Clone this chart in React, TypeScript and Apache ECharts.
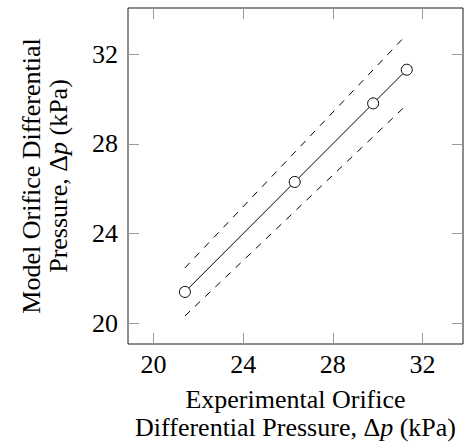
import React, { useEffect, useRef } from "react";
import * as echarts from "echarts";

const tickValues = [20, 24, 28, 32];
const experimental = [21.4, 26.3, 29.8, 31.3];
const model = [21.4, 26.3, 29.8, 31.3];
const upperBoundX = [21.4, 31.3];
const upperBoundY = [22.47, 32.87];
const lowerBoundX = [21.4, 31.3];
const lowerBoundY = [20.33, 29.74];

const FONT = "'Liberation Serif', 'Times New Roman', 'DejaVu Serif', serif";

export default function App() {
  const ref = useRef<HTMLDivElement>(null);
  useEffect(() => {
    if (!ref.current) return;
    const chart = echarts.init(ref.current, undefined, { renderer: "svg" });
    const tickStyle = {
      show: true,
      inside: true,
      length: 11,
      customValues: tickValues,
      lineStyle: { color: "#9a9a9a", width: 1 },
    };
    const labelStyle = {
      customValues: tickValues,
      fontFamily: FONT,
      fontSize: 26,
      color: "#000",
    };
    const nameStyle = (lh: number) => ({
      fontFamily: FONT,
      fontSize: 26,
      color: "#000",
      lineHeight: lh,
      rich: {
        i: { fontFamily: FONT, fontSize: 26, fontStyle: "italic", color: "#000", lineHeight: lh },
      },
    });
    chart.setOption({
      animation: false,
      textStyle: { fontFamily: FONT },
      grid: {
        left: 128,
        right: 3,
        top: 8,
        bottom: 102,
        containLabel: false,
        outerBoundsMode: "none",
        show: true,
        borderColor: "#1a1a1a",
        borderWidth: 1,
        backgroundColor: "transparent",
      },
      xAxis: [
        {
          type: "value",
          min: 18.86,
          max: 33.81,
          axisLine: { show: false },
          axisTick: tickStyle,
          axisLabel: { ...labelStyle, margin: 7 },
          splitLine: { show: false },
          name: "Experimental Orifice\nDifferential Pressure, Δ{i|p} (kPa)",
          nameLocation: "middle",
          nameGap: 41,
          nameTextStyle: nameStyle(28),
        },
        {
          type: "value",
          position: "top",
          min: 18.86,
          max: 33.81,
          axisLine: { show: false },
          axisTick: tickStyle,
          axisLabel: { show: false },
          splitLine: { show: false },
        },
      ],
      yAxis: [
        {
          type: "value",
          min: 19.08,
          max: 34.05,
          axisLine: { show: false },
          axisTick: tickStyle,
          axisLabel: { ...labelStyle, margin: 10 },
          splitLine: { show: false },
          name: "Model Orifice Differential\nPressure, Δ{i|p} (kPa)",
          nameLocation: "middle",
          nameGap: 56,
          nameTextStyle: nameStyle(27),
        },
        {
          type: "value",
          position: "right",
          min: 19.08,
          max: 34.05,
          axisLine: { show: false },
          axisTick: tickStyle,
          axisLabel: { show: false },
          splitLine: { show: false },
        },
      ],
      series: [
        {
          type: "line",
          data: upperBoundX.map((x, i) => [x, upperBoundY[i]]),
          symbol: "none",
          lineStyle: { color: "#000", width: 1, type: [7, 7] },
          silent: true,
        },
        {
          type: "line",
          data: lowerBoundX.map((x, i) => [x, lowerBoundY[i]]),
          symbol: "none",
          lineStyle: { color: "#000", width: 1, type: [7, 7] },
          silent: true,
        },
        {
          type: "line",
          data: experimental.map((x, i) => [x, model[i]]),
          symbol: "circle",
          symbolSize: 11,
          itemStyle: { color: "#fff", borderColor: "#000", borderWidth: 1 },
          lineStyle: { color: "#000", width: 1 },
          z: 3,
        },
      ],
    });
    return () => chart.dispose();
  }, []);
  return (
    <div
      ref={ref}
      style={{ position: "absolute", left: 0, top: 0, width: 466, height: 446 }}
    />
  );
}
